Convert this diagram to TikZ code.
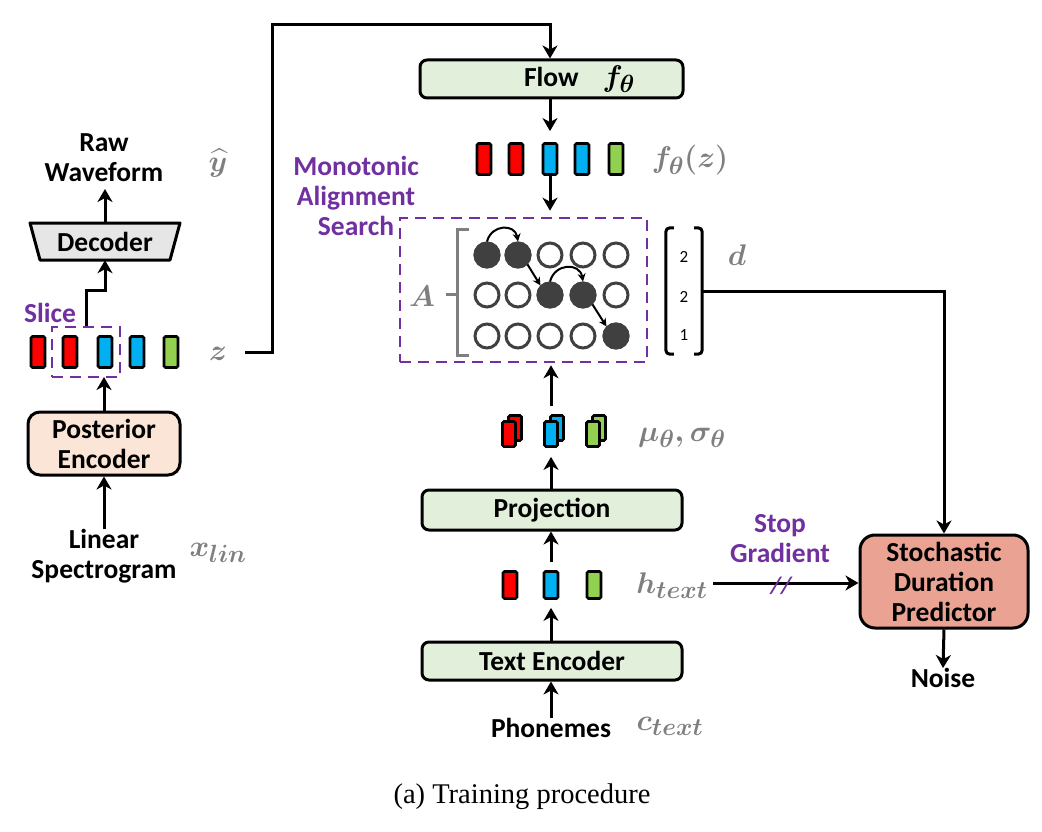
\documentclass[tikz,border=0pt]{standalone}
\usepackage{amsmath}
\usepackage{fontspec}
\setmainfont{Carlito}
\newfontfamily\capfont{Liberation Serif}
\usetikzlibrary{arrows.meta,calc}
\definecolor{vred}{HTML}{FF0000}
\definecolor{vblue}{HTML}{00B0F0}
\definecolor{vgreen}{HTML}{92D050}
\definecolor{boxgreen}{HTML}{E2EFDA}
\definecolor{boxpeach}{HTML}{FBE5D6}
\definecolor{boxsalmon}{HTML}{EAA392}
\definecolor{decgray}{HTML}{E6E6E6}
\definecolor{mpurple}{HTML}{7030A0}
\definecolor{lblgray}{HTML}{7F7F7F}
\definecolor{dotgray}{HTML}{404040}
\newcommand{\bmath}[1]{\scalebox{1.2}{\fontsize{24.88}{28}\selectfont\mathversion{bold}$\boldsymbol{#1}$}}
\begin{document}
\begin{tikzpicture}[x=1pt,y=-1pt,
  txt/.style={font=\bfseries\fontsize{27.5}{30}\selectfont, inner sep=0pt, align=center},
  ptxt/.style={txt, text=mpurple},
  lbl/.style={text=lblgray, inner sep=0pt},
  box/.style={draw, line width=3pt, rounded corners=7pt, fill=boxgreen, txt},
  blk/.style={draw, line width=2.8pt, rounded corners=1.5pt, inner sep=0pt, minimum width=14pt, minimum height=31pt},
  hblk/.style={blk, minimum width=14pt, minimum height=27pt},
  mblk/.style={blk, minimum width=13pt, minimum height=25pt},
  dot/.style={circle, draw=dotgray, line width=3pt, minimum size=24pt, inner sep=0pt, fill=white},
  fdot/.style={dot, fill=dotgray},
  arr/.style={line width=3pt, -{Stealth[length=13pt,width=15pt,inset=4pt]}},
  sarr/.style={line width=2pt, -{Stealth[length=8pt,width=8pt]}},
  mas/.style={draw=mpurple, dashed, dash pattern=on 11pt off 7pt, line width=2.6pt},
  vnum/.style={font=\fontsize{17}{18}\selectfont, inner sep=0pt}
]
\useasboundingbox (0,0) rectangle (1042,832);

% ---------------- left column ----------------
\node[txt] (raw) at (104,158) {Raw\\Waveform};
\node[lbl] (yhat) at (218,163) {\bmath{\widehat{y}}};
\draw[line width=3pt, fill=decgray, line join=round] (30,223) -- (180,223) -- (170,260) -- (40,260) -- cycle;
\node[txt, minimum width=130pt, minimum height=37pt] (dec) at (105,241.5) {Decoder};
\draw[arr] (dec.north) -- (dec.north |- 0,189);

\node[blk, fill=vred]   (z1) at (38,352) {};
\node[blk, fill=vred]   (z2) at (70,352) {};
\node[blk, fill=vblue]  (z3) at (105,352) {};
\node[blk, fill=vblue]  (z4) at (137,352) {};
\node[blk, fill=vgreen] (z5) at (171,352) {};
\node[mas, minimum width=68pt, minimum height=50pt, inner sep=0pt] (slice) at (86,352) {};
\node[ptxt] (slicet) at (50,313) {Slice};
\draw[arr, line join=miter] (slice.north) -- ++(0,-35) -| (dec.south);

\node[box, fill=boxpeach, rounded corners=12pt, minimum width=152pt, minimum height=63pt] (pe) at (104,443.5) {Posterior\\Encoder};
\draw[arr] (pe.north) -- (pe.north |- 0,377);
\node[txt] (lin) at (104,556) {Linear\\Spectrogram};
\draw[arr] (lin.north) -- (pe.south);
\node[lbl] (xlin) at (218,553) {\bmath{x_{lin}}};
\node[lbl] (zlab) at (218,354) {\bmath{z}};

% ---------------- flow ----------------
\node[box, minimum width=263pt, minimum height=38pt] (flow) at (551.5,79) {\hspace*{56pt}Flow\hspace{24pt}\bmath{f_\theta}};
\coordinate (zr) at (245,352);
\coordinate (topc) at (550,25);
\draw[arr, line join=miter] (zr) -- ++(27,0) |- (topc) -- (topc |- flow.north);

\node[blk, fill=vred]   (f1) at (484,159) {};
\node[blk, fill=vred]   (f2) at (516,159) {};
\node[blk, fill=vblue]  (f3) at (550,159) {};
\node[blk, fill=vblue]  (f4) at (582,159) {};
\node[blk, fill=vgreen] (f5) at (616,159) {};
\draw[arr, shorten >=11pt] (f3 |- flow.south) -- (f3.north);
\node[lbl] (fz) at (690,160) {\bmath{f_\theta(z)}};

% ---------------- MAS ----------------
\node[mas, minimum width=247pt, minimum height=144pt, inner sep=0pt] (masbox) at (523.5,290) {};
\draw[arr, shorten >=6pt] (f3.south) -- (f3.south |- masbox.north);
\node[ptxt] (mast) at (356,196) {Monotonic\\Alignment\\Search};

\foreach \r/\y in {1/255,2/295,3/336}{
  \foreach \c/\x in {1/487,2/518,3/550,4/583,5/616}{
    \node[dot] (d\r\c) at (\x,\y) {};
  }
}
\node[fdot] at (d11) {};
\node[fdot] at (d12) {};
\node[fdot] at (d23) {};
\node[fdot] at (d24) {};
\node[fdot] at (d35) {};
\draw[sarr] (d11.north) to[out=75, in=100, looseness=1.5] (d12.north);
\draw[sarr] (d23.north) to[out=75, in=100, looseness=1.5] (d24.north);
\draw[sarr] (d12.south east) -- (d23.north west);
\draw[sarr] (d24.south east) -- (d35.north west);

\draw[lblgray, line width=3pt] (469,229) -- (457,229) -- (457,355) -- (469,355);
\draw[lblgray, line width=3pt] (446,294) -- (457,294);
\node[lbl] (alab) at (422,296) {\bmath{A}};

\node[minimum width=36pt, minimum height=126pt, inner sep=0pt] (vec) at (684,291) {};
\draw[line width=3pt, rounded corners=4pt] ($(vec.north west)+(8,0)$) -- (vec.north west) -- (vec.south west) -- ++(8,0);
\draw[line width=3pt, rounded corners=4pt] ($(vec.north east)+(-8,0)$) -- (vec.north east) -- (vec.south east) -- ++(-8,0);
\node[vnum] (v1) at (684,257) {2};
\node[vnum] (v2) at (684,297) {2};
\node[vnum] (v3) at (684,335) {1};
\node[lbl] (dlab) at (737,255) {\bmath{d}};

% ---------------- text side ----------------
\foreach \n/\x/\col in {m1/509/vred, m2/551/vblue, m3/593/vgreen}{
  \node[mblk, fill=\col] (\n b) at (\x+6,428) {};
  \node[mblk, fill=\col] (\n) at (\x,434) {};
}
\draw[arr, shorten <=8pt, shorten >=2pt] (m2b.north -| m2) -- (m2 |- masbox.south);
\node[lbl] (mulab) at (682,438) {\bmath{\mu_\theta,\sigma_\theta}};

\node[box, minimum width=260pt, minimum height=40pt] (proj) at (552,510) {Projection};
\draw[arr, shorten >=9pt] (m2 |- proj.north) -- (m2.south);

\node[hblk, fill=vred]   (h1) at (510,585) {};
\node[hblk, fill=vblue]  (h2) at (551,585) {};
\node[hblk, fill=vgreen] (h3) at (594,585) {};
\draw[arr, shorten <=8pt] (h2.north) -- (h2 |- proj.south);
\node[lbl] (hlab) at (672,586) {\bmath{h_{text}}};

\node[box, minimum width=260pt, minimum height=38pt] (te) at (552,661) {Text Encoder};
\draw[arr, shorten >=8pt] (h2 |- te.north) -- (h2.south);
\node[txt] (phon) at (551,728) {Phonemes};
\draw[arr] (phon.north -| h2) -- (h2 |- te.south);
\node[lbl] (clab) at (670,726) {\bmath{c_{text}}};

% ---------------- duration predictor ----------------
\node[box, fill=boxsalmon, rounded corners=15pt, minimum width=168pt, minimum height=93pt] (sdp) at (944,581.5) {Stochastic\\Duration\\Predictor};
\draw[arr, line join=miter] (vec.east) -| (sdp.north);
\coordinate (sg) at (713,583);
\draw[arr] (sg) -- (sg -| sdp.west);
\node[ptxt] (sgt) at (780,539) {Stop\\Gradient};
\node[ptxt, font=\bfseries\itshape\fontsize{24}{26}\selectfont] (sgs) at (781,586) {//};
\node[txt] (noise) at (943,678) {Noise};
\draw[arr] (sdp.south) -- (noise.north);

% ---------------- caption ----------------
\node[font=\capfont\fontsize{28.5}{30}\selectfont, inner sep=0pt] (cap) at (522,797) {(a) Training procedure};
\end{tikzpicture}
\end{document}
